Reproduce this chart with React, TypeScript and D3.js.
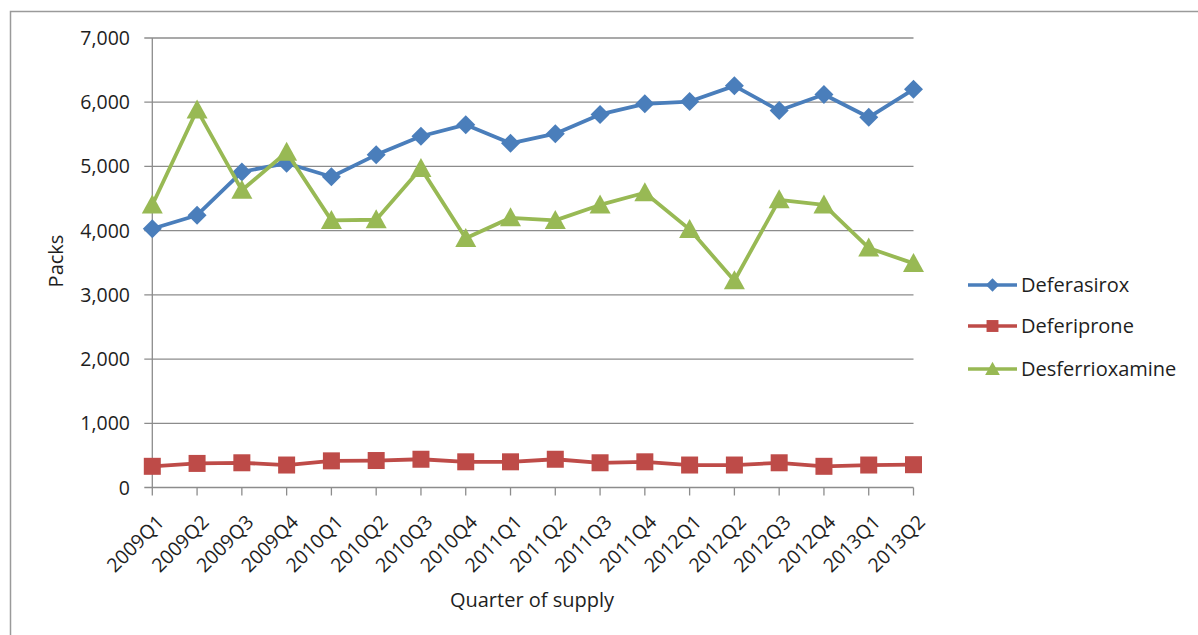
import React from "react";
import * as d3 from "d3";

const quarters = [
  "2009Q1", "2009Q2", "2009Q3", "2009Q4",
  "2010Q1", "2010Q2", "2010Q3", "2010Q4",
  "2011Q1", "2011Q2", "2011Q3", "2011Q4",
  "2012Q1", "2012Q2", "2012Q3", "2012Q4",
  "2013Q1", "2013Q2",
];

const deferasirox = [
  4030, 4240, 4915, 5050, 4840, 5180, 5470, 5650, 5360,
  5510, 5810, 5975, 6010, 6255, 5870, 6120, 5765, 6200,
];

const deferiprone = [
  330, 375, 385, 350, 415, 420, 440, 400, 400,
  440, 385, 400, 350, 350, 385, 330, 350, 355,
];

const desferrioxamine = [
  4400, 5880, 4630, 5220, 4160, 4170, 4970, 3880, 4200,
  4160, 4400, 4590, 4020, 3220, 4480, 4400, 3730, 3490,
];

const yTicks = [0, 1000, 2000, 3000, 4000, 5000, 6000, 7000];

type Series = { name: string; values: number[]; color: string; marker: "diamond" | "square" | "triangle" };

const series: Series[] = [
  { name: "Deferasirox", values: deferasirox, color: "#4A7EBB", marker: "diamond" },
  { name: "Deferiprone", values: deferiprone, color: "#BE4B48", marker: "square" },
  { name: "Desferrioxamine", values: desferrioxamine, color: "#98B954", marker: "triangle" },
];

const W = 1198;
const H = 635;
const left = 152.3;
const right = 913.5;
const top = 38;
const bottom = 487.5;
const FONT = "'Open Sans', 'DejaVu Sans', sans-serif";
const TEXT = "#1e1e1e";
const GRID = "#8c8c8c";

const x = d3.scalePoint<string>().domain(quarters).range([left, right]);
const y = d3.scaleLinear().domain([0, 7000]).range([bottom, top]);
const fmt = d3.format(",");

function Marker({ kind, cx, cy, color, scale = 1 }: { kind: Series["marker"]; cx: number; cy: number; color: string; scale?: number }) {
  if (kind === "diamond") {
    const r = 9.5 * scale;
    return <path d={`M${cx},${cy - r}L${cx + r},${cy}L${cx},${cy + r}L${cx - r},${cy}Z`} fill={color} />;
  }
  if (kind === "square") {
    const s = 8.5 * scale;
    return <rect x={cx - s} y={cy - s} width={2 * s} height={2 * s} fill={color} />;
  }
  const w = 10.5 * scale;
  const h = 19 * scale;
  return <path d={`M${cx},${cy - h * 0.55}L${cx + w},${cy + h * 0.45}L${cx - w},${cy + h * 0.45}Z`} fill={color} />;
}

export default function App() {
  const line = d3
    .line<number>()
    .x((_, i) => x(quarters[i]) as number)
    .y((v) => y(v));

  const legendY = [285, 326, 369];

  return (
    <svg width={W} height={H} style={{ display: "block", position: "absolute", left: 0, top: 0 }} fontFamily={FONT}>
      <rect x={0} y={0} width={W} height={H} fill="#ffffff" />
      {/* chart frame */}
      <path d={`M10.5,${H}V11.5H${W}`} fill="none" stroke="#9a9a9a" strokeWidth={1.5} />

      {/* horizontal gridlines and y labels */}
      {yTicks.map((t) => (
        <g key={t}>
          <line x1={left - 8} x2={right} y1={y(t)} y2={y(t)} stroke={GRID} strokeWidth={1.3} />
          <text x={130} y={y(t)} dy="0.36em" textAnchor="end" fontSize={19.5} fill={TEXT}>
            {fmt(t)}
          </text>
        </g>
      ))}

      {/* y axis line */}
      <line x1={left} x2={left} y1={top} y2={bottom} stroke={GRID} strokeWidth={1.3} />

      {/* x ticks and labels */}
      {quarters.map((q) => {
        const px = x(q) as number;
        return (
          <g key={q}>
            <line x1={px} x2={px} y1={bottom} y2={bottom + 8} stroke={GRID} strokeWidth={1.3} />
            <text
              transform={`translate(${px + 8},${bottom + 31}) rotate(-45)`}
              textAnchor="end"
              dy="0.36em"
              fontSize={19.5}
              fill={TEXT}
            >
              {q}
            </text>
          </g>
        );
      })}

      {/* axis titles */}
      <text transform={`translate(63,${261}) rotate(-90)`} textAnchor="middle" fontSize={20} fill={TEXT}>
        Packs
      </text>
      <text x={532} y={607} textAnchor="middle" fontSize={20} fill={TEXT}>
        Quarter of supply
      </text>

      {/* series */}
      {series.map((s) => (
        <g key={s.name}>
          <path d={line(s.values) ?? ""} fill="none" stroke={s.color} strokeWidth={3.8} strokeLinejoin="round" />
          {s.values.map((v, i) => (
            <Marker key={i} kind={s.marker} cx={x(quarters[i]) as number} cy={y(v)} color={s.color} />
          ))}
        </g>
      ))}

      {/* legend */}
      {series.map((s, i) => (
        <g key={s.name}>
          <line x1={968} x2={1017} y1={legendY[i]} y2={legendY[i]} stroke={s.color} strokeWidth={3.5} />
          <Marker kind={s.marker} cx={992.5} cy={legendY[i]} color={s.color} scale={0.7} />
          <text x={1021} y={legendY[i]} dy="0.36em" fontSize={20} fill={TEXT}>
            {s.name}
          </text>
        </g>
      ))}
    </svg>
  );
}
